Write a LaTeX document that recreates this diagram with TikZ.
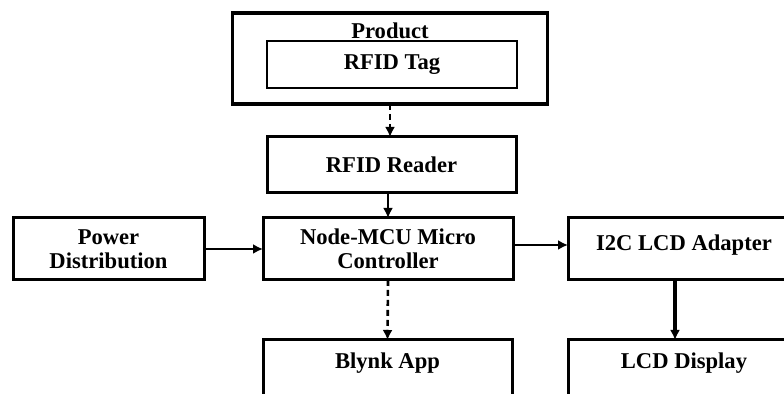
\documentclass[tikz,border=0pt]{standalone}
\usepackage{fontspec}
\setmainfont{Liberation Serif}
\usetikzlibrary{arrows.meta}
\newcommand{\boxwd}{1.5pt}
\newcommand{\wirewd}{1.3pt}

\begin{document}
\begin{tikzpicture}[x=0.5pt,y=-0.5pt,inner sep=0pt,outer sep=0pt,
	font=\fontsize{11.3}{12}\selectfont\bfseries,
	block/.style={draw,line width=\boxwd,align=center},
	wire/.style={line width=\wirewd,-{Latex[length=5pt,width=5pt]}},
	dashwire/.style={wire,dash pattern=on 3pt off 2pt}]
	\clip (0,0) rectangle (784,394);
	% top column
	\node[block,line width=1.7pt,minimum width=157.5pt,minimum height=45.5pt] (product) at (390,58.5) {};
	\node (productlabel) at (390,31) {Product};
	\node[block,line width=1.1pt,minimum width=125pt,minimum height=23.5pt] (tag) at (392,64.5) {RFID Tag};
	\node[block,minimum width=124.5pt,minimum height=28pt] (reader) at (391.5,165) {RFID Reader};
	% middle row
	\node[block,minimum width=125pt,minimum height=31pt] (mcu) at (388,249) {Node-MCU Micro\\Controller};
	\node[block,minimum width=95.5pt,minimum height=31pt] (power) at (108.5,249) {Power\\Distribution};
	\node[block,minimum width=116pt,minimum height=31pt,text depth=6pt] (adapter) at (684,249) {I2C LCD Adapter};
	% bottom row, cut by the page edge
	\node[block,minimum width=124.5pt,minimum height=31pt,text depth=10pt] (blynk) at (387.5,371) {Blynk App};
	\node[block,minimum width=116pt,minimum height=31pt,text depth=10pt] (lcd) at (684,371) {LCD Display};
	
	\draw[dashwire] (product.south) -- (product.south |- reader.north);
	\draw[wire] (mcu.north |- reader.south) -- (mcu.north);
	\draw[wire] (power.east) -- (mcu.west);
	\draw[wire] ([yshift=2pt]mcu.east) -- ([yshift=2pt]adapter.west);
	\draw[wire,line width=2pt] ([xshift=-4.5pt]adapter.south) -- ([xshift=-4.5pt]lcd.north);
	\draw[dashwire] (mcu.south) -- (blynk.north);
	%\draw[wire] (tag.south) -- (reader.north);
\end{tikzpicture}
\end{document}
